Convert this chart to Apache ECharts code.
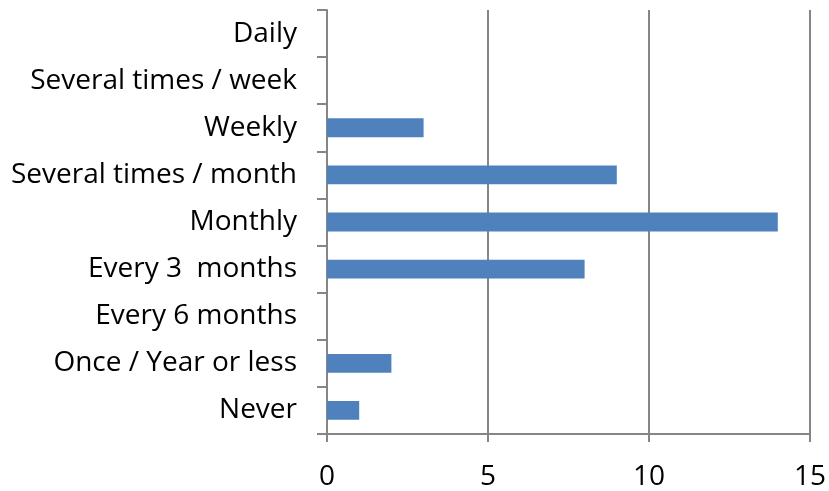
<!DOCTYPE html>
<html><head><meta charset="utf-8">
<script src="https://cdn.jsdelivr.net/npm/echarts@6/dist/echarts.min.js"></script>
<style>html,body{margin:0;padding:0;background:#fff}#c{width:829px;height:491px}</style>
</head><body><div id="c"></div>
<script>
const categories = ["Daily","Several times / week","Weekly","Several times / month","Monthly","Every 3  months","Every 6 months","Once / Year or less","Never"];
const values = [0,0,3,9,14,8,0,2,1];
const xTicks = [0,5,10,15];

const chart = echarts.init(document.getElementById('c'));
const font = "'Open Sans', sans-serif";
chart.setOption({
  animation:false,
  grid:{left:327,right:18,top:10,bottom:56,containLabel:false},
  xAxis:{type:'value',min:xTicks[0],max:xTicks[xTicks.length-1],interval:5,
    axisLine:{show:true,lineStyle:{color:'#868686',width:2}},
    axisTick:{show:true,length:8,lineStyle:{color:'#868686',width:2}},
    splitLine:{show:true,lineStyle:{color:'#868686',width:2}},
    axisLabel:{fontFamily:font,fontSize:28,color:'#000',margin:29}},
  yAxis:{type:'category',inverse:true,data:categories,
    axisLine:{show:true,lineStyle:{color:'#868686',width:2}},
    axisTick:{show:true,length:10,lineStyle:{color:'#868686',width:2}},
    axisLabel:{fontFamily:font,fontSize:28,color:'#000',margin:30,padding:[4,0,0,0]}},
  series:[{type:'bar',data:values,barWidth:'40%',itemStyle:{color:'#4F81BD'}}]
});
</script></body></html>
